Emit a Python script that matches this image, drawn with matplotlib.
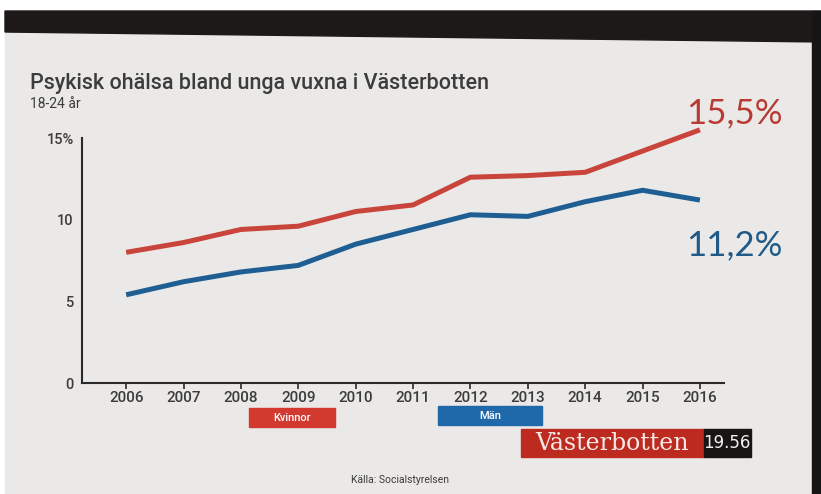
import matplotlib
matplotlib.use("Agg")
import matplotlib.pyplot as plt
from matplotlib.patches import Rectangle, Polygon

years = [2006, 2007, 2008, 2009, 2010, 2011, 2012, 2013, 2014, 2015, 2016]
kvinnor = [8.0, 8.6, 9.4, 9.6, 10.5, 10.9, 12.6, 12.7, 12.9, 14.2, 15.5]
man = [5.4, 6.2, 6.8, 7.2, 8.5, 9.4, 10.3, 10.2, 11.1, 11.8, 11.2]
yticks = [0, 5, 10, 15]
ytick_labels = ["0", "5", "10", "15%"]
end_labels = ["15,5%", "11,2%"]

title = "Psykisk ohälsa bland unga vuxna i Västerbotten"
subtitle = "18-24 år"
source = "Källa: Socialstyrelsen"

RED = "#c9453b"
BLUE = "#1f5e93"
TXT = "#3c3c3c"

W, H = 821, 494
fig = plt.figure(figsize=(W / 100, H / 100), dpi=100)
fig.patch.set_facecolor("white")

# background canvas in pixel coordinates
bg = fig.add_axes([0, 0, 1, 1])
bg.set_xlim(0, W)
bg.set_ylim(H, 0)
bg.axis("off")
bg.add_patch(Rectangle((5, 11), W - 5, H - 11, color="#eae9e7", zorder=0))
bg.add_patch(Polygon([(5, 11), (W, 11), (W, 42), (5, 32)], closed=True, color="#1c1918", zorder=1))
bg.add_patch(Rectangle((812, 11), 9, H - 11, color="#151515", zorder=1))

bg.text(30, 84, title, fontsize=15.5, color=TXT, va="center", ha="left", family="Roboto",
        weight="medium")
bg.text(30, 104, subtitle, fontsize=10, color=TXT, va="center", ha="left", family="Roboto")
bg.text(400, 480, source, fontsize=7.5, color=TXT, va="center", ha="center", family="Roboto")

# legend boxes
bg.add_patch(Rectangle((249, 408), 86, 19, color="#d2392f", zorder=2))
bg.text(292, 417.5, "Kvinnor", fontsize=8, color="white", ha="center", va="center", zorder=3,
        family="Roboto", weight="medium")
bg.add_patch(Rectangle((438, 406), 104, 19, color="#1f69ab", zorder=2))
bg.text(490, 415.5, "Män", fontsize=8, color="white", ha="center", va="center", zorder=3,
        family="Roboto", weight="medium")

# banner
bg.add_patch(Rectangle((521, 429), 183, 28, color="#bd2a20", zorder=2))
bg.add_patch(Rectangle((704, 429), 47, 28, color="#191515", zorder=2))
bg.text(612, 443, "Västerbotten", fontsize=17, color="#f6e9e6", ha="center", va="center",
        family="DejaVu Serif", zorder=3)
bg.text(727, 443, "19.56", fontsize=12, color="#f0f0f0", ha="center", va="center", zorder=3)

# end labels
bg.text(686, 123, end_labels[0], fontsize=25, color="#b83a33", ha="left", va="baseline",
        family="Lato", zorder=3)
bg.text(686, 255, end_labels[1], fontsize=25, color="#1f5a88", ha="left", va="baseline",
        family="Lato", zorder=3)

# main chart
ax = fig.add_axes([82 / W, (H - 383) / H, (724 - 82) / W, (383 - 138) / H])
ax.set_facecolor("none")
ax.plot(years, kvinnor, color=RED, lw=3.6, solid_capstyle="butt", solid_joinstyle="miter",
        clip_on=False)
ax.plot(years, man, color=BLUE, lw=3.6, solid_capstyle="butt", solid_joinstyle="miter",
        clip_on=False)
ax.set_xlim(2005.23, 2016.42)
ax.set_ylim(0, 15)
ax.set_yticks(yticks)
ax.set_yticklabels(ytick_labels)
ax.set_xticks(years)
ax.set_xticklabels([str(y) for y in years])
for s in ["top", "right"]:
    ax.spines[s].set_visible(False)
for s in ["left", "bottom"]:
    ax.spines[s].set_color("#2a2a2a")
    ax.spines[s].set_linewidth(1.5)
ax.tick_params(axis="y", length=0, pad=6, labelsize=10.5, labelcolor=TXT)
ax.tick_params(axis="x", length=4, width=1.2, color="#2a2a2a", pad=2, labelsize=11, labelcolor=TXT)
for lab in ax.get_yticklabels() + ax.get_xticklabels():
    lab.set_family("Roboto")
    lab.set_weight("medium")

fig.savefig("out.png", dpi=100, facecolor=fig.get_facecolor())
